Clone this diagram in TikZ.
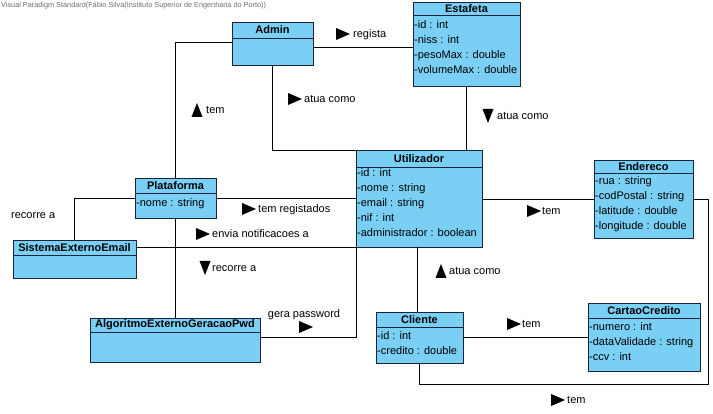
\documentclass[tikz,border=0pt]{standalone}
\usepackage{fontspec}
\setmainfont{Liberation Sans}
\definecolor{vpfill}{RGB}{122,207,245}
\definecolor{vpline}{RGB}{25,35,60}
\definecolor{titlegray}{RGB}{110,110,110}
% class: name, left, top, right, sep, bottom, title
\newcommand\umlclass[7]{%
  \node[cls, anchor=north west, minimum width={#4-#2}, minimum height={#6-#3}] (#1) at (#2,#3) {};
  \draw[vpline, line width=0.9pt] (#1.west |- 0,#5) -- (#1.east |- 0,#5);
  \node[hdr] (#1-title) at ({(#2+#4)/2},{(#3+#5)/2}) {#7};}
% attributes: name, x, first y, list
\newcommand\umlattrs[4]{%
  \foreach \t [count=\i] in {#4} {\node[attr] (#1-a\i) at (#2,{#3+15*(\i-1)}) {\t};}}
\newcommand\triR[2]{\fill ({#1},{#2-6}) -- ({#1+14},{#2}) -- ({#1},{#2+6}) -- cycle;}
\newcommand\triU[2]{\fill ({#1-5.5},{#2+7}) -- ({#1},{#2-7}) -- ({#1+5.5},{#2+7}) -- cycle;}
\newcommand\triD[2]{\fill ({#1-5.5},{#2-7}) -- ({#1},{#2+7}) -- ({#1+5.5},{#2-7}) -- cycle;}
\begin{document}
\begin{tikzpicture}[x=1pt,y=-1pt,
  cls/.style={draw=vpline, fill=vpfill, line width=0.9pt, inner sep=0pt, outer sep=0pt},
  hdr/.style={font=\fontsize{11}{12}\selectfont\bfseries, inner sep=0pt},
  attr/.style={font=\fontsize{11}{12}\selectfont, inner sep=0pt, anchor=west, text height=7.5pt, text depth=2pt},
  lbl/.style={font=\fontsize{11}{12}\selectfont, inner sep=0pt, anchor=west, text height=7.5pt, text depth=2pt},
  conn/.style={draw=black, line width=0.8pt},
]
\useasboundingbox (0,0) rectangle (713,414);
\fill[white] (0,0) rectangle (713,414);
\node[anchor=west, inner sep=0pt, text=titlegray, font=\fontsize{7.3}{8}\selectfont] (title) at (1,6)
  {Visual Paradigm Standard(Fábio Silva(Instituto Superior de Engenharia do Porto))};

\coordinate (c13) at (708,384);

% classes
\umlclass{admin}{232}{22}{313}{38}{65}{Admin}
\umlclass{estafeta}{413}{2}{520}{15}{86}{Estafeta}
\umlattrs{estafeta}{414}{26}{-id : int,-niss : int,-pesoMax : double,-volumeMax : double}
\umlclass{util}{356}{150}{482}{167}{247}{Utilizador}
\umlattrs{util}{357}{174}{-id : int,-nome : string,-email : string,-nif : int,-administrador : boolean}
\umlclass{end}{594}{160}{693}{173}{238}{Endereco}
\umlattrs{end}{595}{182}{-rua : string,-codPostal : string,-latitude : double,-longitude : double}
\umlclass{plat}{135}{178}{216}{193}{218}{Plataforma}
\umlattrs{plat}{136}{204}{-nome : string}
\umlclass{sist}{13}{240}{136}{255}{278}{SistemaExternoEmail}
\umlclass{alg}{90}{318}{260}{332}{362}{AlgoritmoExternoGeracaoPwd}
\umlclass{cli}{376}{312}{463}{327}{363}{Cliente}
\umlattrs{cli}{377}{337}{-id : int,-credito : double}
\umlclass{cart}{588}{303}{700}{318}{371}{CartaoCredito}
\umlattrs{cart}{589}{328}{-numero : int,-dataValidade : string,-ccv : int}

% connectors
\draw[conn] (admin.east |- 0,47) -- (estafeta.west |- 0,47);
\draw[conn] (admin.south) |- (util.north west);
\draw[conn] (estafeta.south) -- (estafeta.south |- util.north);
\draw[conn] (admin.west |- 0,42) -| (plat.north);
\draw[conn] (plat.west |- 0,198) -| (sist.north);
\draw[conn] (plat.east |- 0,198) -- (util.west |- 0,198);
\draw[conn] (sist.east |- 0,247) -- (util.west |- 0,247);
\draw[conn] (plat.south) -- (plat.south |- alg.north);
\draw[conn] (alg.east |- 0,337) -| (util.south west);
\draw[conn] (util.south -| 417,0) -- (cli.north -| 417,0);
\draw[conn] (cli.east |- cart.west) -- (cart.west);
\draw[conn] (util.east |- end.west) -- (end.west);
\draw[conn] (cli.south) |- (c13) |- (end.east);

% labels
\triR{336}{34}\node[lbl] (l1) at (353,35) {regista};
\triR{288}{99}\node[lbl] (l2) at (304,100) {atua como};
\triU{197}{110}\node[lbl] (l3) at (206,111) {tem};
\triD{488}{116}\node[lbl] (l4) at (497,117) {atua como};
\triR{242}{209}\node[lbl] (l5) at (258,210) {tem registados};
\triR{196}{234}\node[lbl] (l6) at (212,235) {envia notificacoes a};
\node[lbl] (l7) at (11,216) {recorre a};
\triD{205}{268}\node[lbl] (l8) at (212,269) {recorre a};
\node[lbl, anchor=center] (l9) at (304,315) {gera password};
\triR{299}{327}
\triU{441}{271}\node[lbl] (l10) at (449,272) {atua como};
\triR{527}{211}\node[lbl] (l11) at (542,212) {tem};
\triR{507}{324}\node[lbl] (l12) at (522,325) {tem};
\triR{551}{400}\node[lbl] (l13) at (567,401) {tem};
\end{tikzpicture}
\end{document}
